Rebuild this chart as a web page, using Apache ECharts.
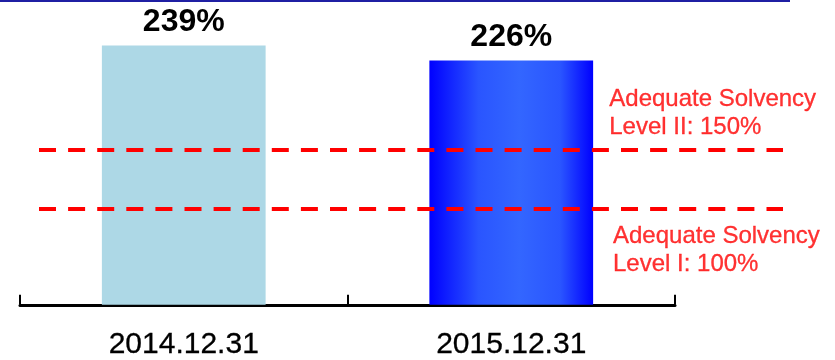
<!DOCTYPE html>
<html>
<head>
<meta charset="utf-8">
<title>Solvency Ratio</title>
<script src="https://cdn.jsdelivr.net/npm/echarts@6/dist/echarts.min.js"></script>
<style>
  html, body { margin: 0; padding: 0; background: #ffffff; }
  #chart { width: 835px; height: 360px; }
</style>
</head>
<body>
<div id="chart"></div>
<script>
// Solvency ratio at year end, with the regulatory adequacy thresholds.
const categories = ['2014.12.31', '2015.12.31'];
const solvencyRatio = [239, 226];
const thresholdValues = [150, 100];
const thresholdLabels = [
  'Adequate Solvency\nLevel II: 150%',
  'Adequate Solvency\nLevel I: 100%'
];

const FONT = '"Liberation Sans", Arial, Helvetica, sans-serif';
const Y_MIN = 15, Y_MAX = 270;
const AXIS_Y = 308;                       // pixel row of the category axis line
const PX_PER_UNIT = 1.17;
const gridTop = AXIS_Y - PX_PER_UNIT * (Y_MAX - Y_MIN);
const gridBottom = 360 - AXIS_Y;

const barColors = [
  '#add8e6',
  {
    type: 'linear', x: 0, y: 0, x2: 1, y2: 0,
    colorStops: [
      { offset: 0, color: '#0000ff' },
      { offset: 0.3, color: '#2a55ff' },
      { offset: 0.55, color: '#3366ff' },
      { offset: 0.8, color: '#2a55ff' },
      { offset: 1, color: '#0000ff' }
    ]
  }
];

const chart = echarts.init(document.getElementById('chart'), null, { renderer: 'canvas' });

chart.setOption({
  animation: false,
  backgroundColor: '#ffffff',
  textStyle: { fontFamily: FONT },
  graphic: [{
    type: 'rect',
    shape: { x: 0, y: 0, width: 790, height: 2 },
    style: { fill: '#1f1fa3' },
    silent: true
  }],
  grid: [
    { left: 20, right: 160, top: gridTop, bottom: gridBottom },
    { left: 39, right: 52, top: gridTop, bottom: gridBottom }
  ],
  xAxis: [
    {
      type: 'category',
      gridIndex: 0,
      data: categories,
      boundaryGap: true,
      axisLine: { show: true, lineStyle: { color: '#000000', width: 3 } },
      axisTick: { show: true, inside: true, length: 10, alignWithLabel: false,
                  lineStyle: { color: '#000000', width: 2 } },
      axisLabel: { color: '#000000', fontSize: 30, fontFamily: FONT, margin: 25,
                   textBorderColor: '#000000', textBorderWidth: 0.3 },
      splitLine: { show: false }
    },
    {
      type: 'value',
      gridIndex: 1,
      min: 0, max: 1,
      show: false
    }
  ],
  yAxis: [
    { type: 'value', gridIndex: 0, min: Y_MIN, max: Y_MAX, show: false },
    { type: 'value', gridIndex: 1, min: Y_MIN, max: Y_MAX, show: false }
  ],
  series: [
    {
      name: 'Solvency ratio',
      type: 'bar',
      xAxisIndex: 0,
      yAxisIndex: 0,
      barWidth: '50%',
      data: solvencyRatio.map((v, i) => ({ value: v, itemStyle: { color: barColors[i] } })),
      label: {
        show: true,
        position: 'top',
        distance: 7,
        formatter: '{c}%',
        color: '#000000',
        fontSize: 32,
        fontWeight: 'bold',
        fontFamily: FONT
      },
      z: 2
    },
    {
      name: 'Thresholds',
      type: 'line',
      xAxisIndex: 1,
      yAxisIndex: 1,
      data: [],
      z: 5,
      markLine: {
        silent: true,
        symbol: ['none', 'none'],
        label: { show: false },
        lineStyle: { color: '#ff0000', width: 4, type: [17, 12.1], opacity: 1 },
        data: thresholdValues.map(v => ({ yAxis: v }))
      }
    },
    {
      name: 'Threshold labels',
      type: 'scatter',
      xAxisIndex: 1,
      yAxisIndex: 1,
      symbolSize: 0,
      silent: true,
      data: [
        {
          value: [0.7665, thresholdValues[0]],
          label: { position: 'top', distance: 9, formatter: thresholdLabels[0] }
        },
        {
          value: [0.7715, thresholdValues[1]],
          label: { position: 'bottom', distance: 14, formatter: thresholdLabels[1] }
        }
      ],
      label: {
        show: true,
        align: 'left',
        color: '#ff0000',
        fontSize: 24,
        lineHeight: 28,
        fontFamily: FONT,
        textBorderColor: '#ff0000',
        textBorderWidth: 0.3
      },
      z: 6
    }
  ]
});
</script>
</body>
</html>
